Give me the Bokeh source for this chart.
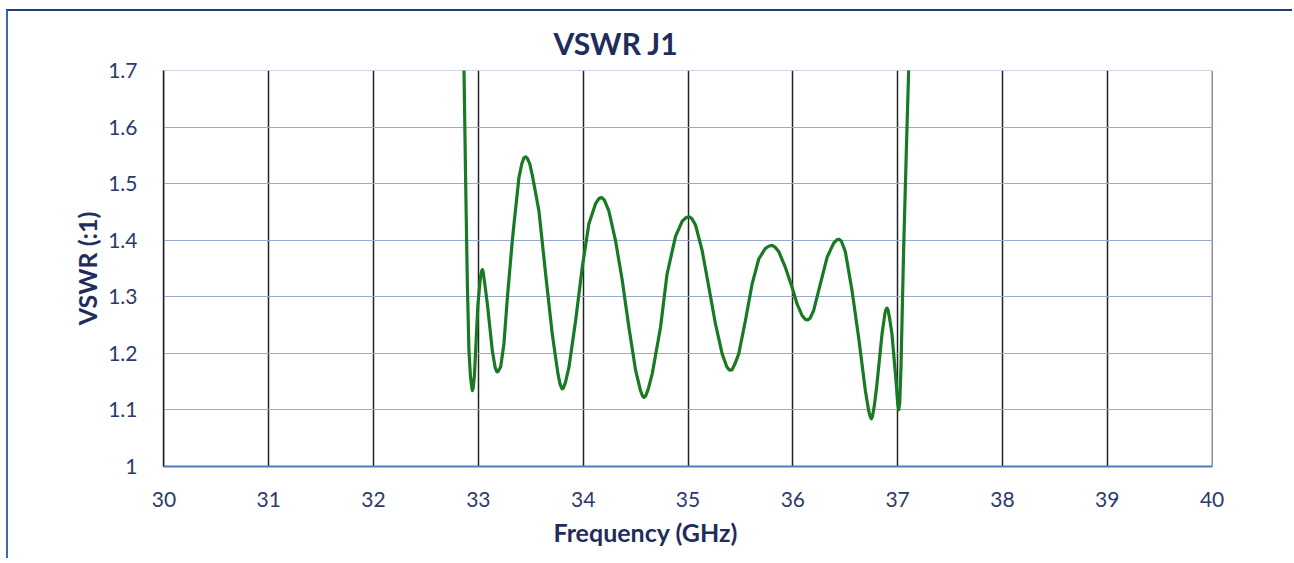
from bokeh.plotting import figure
from bokeh.models import FixedTicker, Range1d, Title
from bokeh.embed import file_html
from bokeh.resources import INLINE

# Data (frequency in GHz, VSWR)
freq = [32.85, 32.863, 32.879, 32.895, 32.91, 32.925, 32.937, 32.943, 32.950, 32.962, 32.974, 32.996,
        33.020, 33.032, 33.038, 33.045, 33.060, 33.086, 33.133, 33.160, 33.174, 33.181, 33.190, 33.213,
        33.244, 33.277, 33.324, 33.34, 33.387, 33.415, 33.435, 33.451, 33.468, 33.490, 33.515, 33.578,
        33.642, 33.705, 33.759, 33.780, 33.793, 33.80, 33.810, 33.830, 33.864, 33.928, 33.991, 34.054,
        34.118, 34.150, 34.175, 34.200, 34.245, 34.309, 34.373, 34.436, 34.50, 34.545, 34.565, 34.579,
        34.595, 34.620, 34.659, 34.738, 34.80, 34.881, 34.945, 34.980, 35.008, 35.035, 35.072, 35.135,
        35.199, 35.262, 35.326, 35.370, 35.392, 35.405, 35.420, 35.445, 35.484, 35.548, 35.612, 35.675,
        35.739, 35.775, 35.803, 35.830, 35.866, 35.929, 35.993, 36.041, 36.088, 36.120, 36.142, 36.165,
        36.199, 36.263, 36.327, 36.390, 36.420, 36.441, 36.462, 36.501, 36.565, 36.628, 36.692, 36.725,
        36.740, 36.749, 36.760, 36.780, 36.803, 36.851, 36.880, 36.892, 36.899, 36.908, 36.925, 36.946,
        36.987, 37.000, 37.01, 37.020, 37.032, 37.057, 37.083, 37.105, 37.13]
vswr = [1.95, 1.70, 1.50, 1.323, 1.205, 1.158, 1.140, 1.134, 1.138, 1.160, 1.205, 1.287,
        1.335, 1.346, 1.348, 1.345, 1.325, 1.287, 1.205, 1.175, 1.168, 1.167, 1.168, 1.176,
        1.217, 1.299, 1.40, 1.429, 1.511, 1.536, 1.546, 1.548, 1.545, 1.536, 1.515, 1.452,
        1.340, 1.234, 1.164, 1.145, 1.139, 1.137, 1.138, 1.148, 1.175, 1.258, 1.352, 1.429,
        1.465, 1.474, 1.476, 1.472, 1.452, 1.399, 1.329, 1.246, 1.170, 1.135, 1.125, 1.122,
        1.124, 1.136, 1.164, 1.246, 1.340, 1.407, 1.434, 1.440, 1.442, 1.439, 1.427, 1.382,
        1.317, 1.252, 1.199, 1.176, 1.171, 1.170, 1.171, 1.180, 1.199, 1.258, 1.323, 1.367,
        1.386, 1.390, 1.391, 1.388, 1.380, 1.352, 1.317, 1.287, 1.267, 1.260, 1.259, 1.262,
        1.276, 1.323, 1.370, 1.395, 1.401, 1.402, 1.399, 1.380, 1.311, 1.228, 1.134, 1.097,
        1.087, 1.084, 1.088, 1.110, 1.146, 1.234, 1.272, 1.279, 1.280, 1.277, 1.260, 1.234,
        1.146, 1.112, 1.100, 1.112, 1.175, 1.382, 1.558, 1.70, 1.95]

x_ticks = [30, 31, 32, 33, 34, 35, 36, 37, 38, 39, 40]
y_ticks = [1.0, 1.1, 1.2, 1.3, 1.4, 1.5, 1.6, 1.7]
title_text = "VSWR J1"
x_title = "Frequency (GHz)"
y_title = "VSWR (:1)"

NAVY = "#1f2d5c"
TICK = "#2b3a6b"
FONT = "Lato"

p = figure(output_backend="svg", toolbar_location=None,
           frame_width=1049, frame_height=396,
           min_border_left=155, min_border_top=59, min_border_right=80, min_border_bottom=92,
           x_range=Range1d(29.996, 40.004), y_range=Range1d(0.9995, 1.7008),
           background_fill_color="white", border_fill_color="white")
p.outline_line_color = None
p.styles = {"margin-left": "6px", "margin-top": "9px",
            "border-top": "2px solid #1e3f73", "border-left": "2px solid #3a68b5"}

p.title.text = title_text
p.title.align = "left"
p.title.offset = 390
p.title.text_font = FONT
p.title.text_font_style = "bold"
p.title.text_font_size = "30px"
p.title.text_color = NAVY
p.title.standoff = 20

p.xaxis.ticker = FixedTicker(ticks=x_ticks)
p.yaxis.ticker = FixedTicker(ticks=y_ticks)
p.yaxis.major_label_overrides = {1.0: "1"}
for ax in (p.xaxis, p.yaxis):
    ax.major_tick_line_color = None
    ax.minor_tick_line_color = None
    ax.major_label_text_font = FONT
    ax.major_label_text_font_size = "21px"
    ax.major_label_text_color = TICK
p.xaxis.axis_line_color = "#4d7fb5"
p.xaxis.axis_line_width = 2
p.yaxis.axis_line_color = "#222222"
p.yaxis.axis_line_width = 1.5
p.xaxis.major_label_standoff = 19
p.yaxis.major_label_standoff = 20

p.yaxis.axis_label = y_title
p.yaxis.axis_label_text_font = FONT
p.yaxis.axis_label_text_font_style = "bold"
p.yaxis.axis_label_text_font_size = "25px"
p.yaxis.axis_label_text_color = NAVY
p.yaxis.axis_label_standoff = 3

xt = Title(text=x_title, align="left", offset=390, text_font=FONT, text_font_style="bold",
           text_font_size="25px", text_color=NAVY, standoff=11)
p.add_layout(xt, "below")

p.xgrid.ticker = FixedTicker(ticks=x_ticks)
p.xgrid.grid_line_color = "#222222"
p.xgrid.grid_line_width = 1.5
p.ygrid.ticker = FixedTicker(ticks=y_ticks)
p.ygrid.grid_line_color = "#9aaace"
p.ygrid.grid_line_width = 1

p.line(freq, vswr, line_color="#187a22", line_width=3.2, line_join="round")

open("out.html", "w").write(file_html(p, INLINE))
